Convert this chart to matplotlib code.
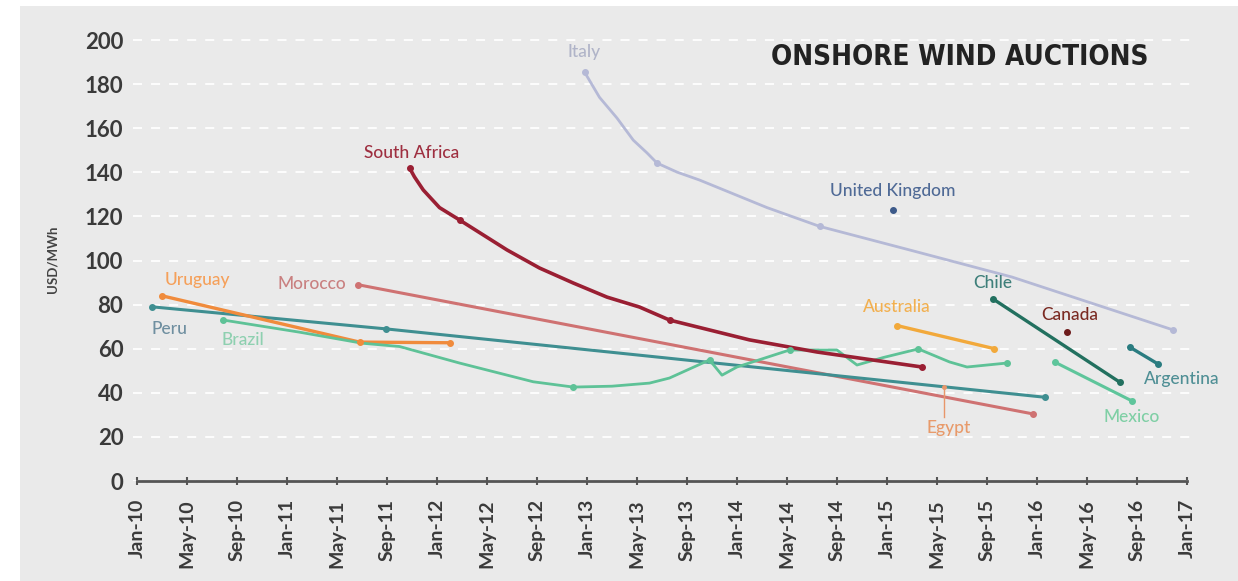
#%% importando
import matplotlib.pyplot as plt
from matplotlib.patches import Rectangle

#%% dados (meses contados a partir de Jan-10)
italy_m = [35.8, 37.0, 38.4, 39.7, 40.8, 41.6, 43.2, 45.0, 50.4, 54.6, 62.0, 70.0, 82.9]
italy_v = [185.5, 174.0, 164.6, 154.6, 148.8, 144.2, 140.1, 136.5, 124.0, 115.5, 104.5, 92.5, 68.5]

safrica_m = [21.8, 22.2, 22.9, 24.2, 25.8, 27.7, 29.6, 32.2, 34.9, 37.6, 40.2, 42.6, 49.0, 54.4, 62.8]
safrica_v = [142.0, 137.9, 132.0, 124.0, 118.4, 111.6, 104.8, 96.6, 89.8, 83.4, 78.9, 73.0, 64.0, 58.5, 51.7]

morocco_m = [17.7, 71.7]
morocco_v = [89.0, 30.4]

uruguay_m = [2.0, 17.8, 25.0]
uruguay_v = [84.0, 63.0, 62.7]

peru_m = [1.2, 19.9, 72.6]
peru_v = [79.0, 69.0, 38.0]

brazil_m = [6.9, 13.0, 18.0, 21.0, 25.8, 31.7, 34.9, 38.0, 41.0, 42.6, 45.8, 46.8, 48.0,
            52.2, 56.0, 57.6, 59.7, 62.5, 65.0, 66.4, 69.6]
brazil_v = [73.0, 67.5, 62.5, 61.0, 53.5, 45.0, 42.6, 43.0, 44.4, 46.7, 54.9, 48.0, 51.7,
            59.4, 59.4, 52.6, 56.0, 59.9, 54.0, 51.7, 53.5]

australia_m = [60.8, 68.6]
australia_v = [70.5, 60.0]

chile_m = [68.5, 78.6]
chile_v = [82.5, 44.9]

argentina_m = [79.4, 81.7]
argentina_v = [60.8, 53.0]

mexico_m = [73.4, 79.6]
mexico_v = [54.0, 36.3]

canada_m = [74.4]
canada_v = [67.6]

uk_m = [60.5]
uk_v = [123.0]

egypt_m = [64.6]
egypt_v = [42.6]

ticks_m = list(range(0, 85, 4))
ticks_lab = []
for ano in range(10, 18):
    for mes in ['Jan', 'May', 'Sep']:
        ticks_lab.append(f'{mes}-{ano}')
ticks_lab = ticks_lab[:len(ticks_m)]

#%% figura
fig = plt.figure(figsize=(12.38, 5.81), dpi=100)
fig.patches.append(Rectangle((20 / 1238, 0), 1, 1 - 6 / 581, transform=fig.transFigure,
                             facecolor='#eaeaea', edgecolor='none', zorder=-10))
ax = fig.add_axes([133 / 1238, 100 / 581, (1192 - 133) / 1238, 452 / 581])
ax.set_facecolor('none')
ax.set_zorder(2)
ax.set_xlim((133 - 137) / 12.5, (1192 - 137) / 12.5)
ax.set_ylim(0, 205)

# (meses, valores, cor, espessura, indices com marcador)
series = [
    (italy_m, italy_v, '#b5b9d6', 2.0, [0, 5, 9, -1]),
    (morocco_m, morocco_v, '#cf7272', 2.2, [0, -1]),
    (peru_m, peru_v, '#3f8f91', 2.2, [0, 1, -1]),
    (uruguay_m, uruguay_v, '#f08b3c', 2.4, [0, 1, -1]),
    (brazil_m, brazil_v, '#5ec297', 2.0, [0, 6, 10, 13, 17, -1]),
    (safrica_m, safrica_v, '#9a1f33', 2.6, [0, 4, 11, -1]),
    (australia_m, australia_v, '#f2a93b', 2.4, [0, -1]),
    (chile_m, chile_v, '#22705f', 2.4, [0, -1]),
    (mexico_m, mexico_v, '#5ec59b', 2.2, [0, -1]),
    (argentina_m, argentina_v, '#2a7c80', 2.4, [0, -1]),
]
for xm, yv, cor, lw, marcas in series:
    ax.plot(xm, yv, color=cor, lw=lw, solid_capstyle='round', solid_joinstyle='round', zorder=3)
    ax.plot([xm[i] for i in marcas], [yv[i] for i in marcas], 'o', color=cor, ms=4, zorder=4)

ax.plot(canada_m, canada_v, 'o', color='#6e1c1c', ms=4, zorder=4)
ax.plot(uk_m, uk_v, 'o', color='#3d5a8a', ms=4, zorder=4)
ax.plot(egypt_m, egypt_v, 'o', color='#e8966a', ms=2.5, zorder=4)
ax.plot([egypt_m[0], egypt_m[0]], [egypt_v[0], 29], color='#e8966a', lw=1, zorder=4)

#%% rotulos das series
fonte = 'Lato'
rotulos = [
    ('Italy', 35.8, 194.5, '#b0b4c8'),
    ('South Africa', 22.0, 148.8, '#9e2f40'),
    ('United Kingdom', 60.5, 131.5, '#4f6a96'),
    ('Uruguay', 4.8, 91.0, '#f5a05a'),
    ('Morocco', 14.0, 89.3, '#c98080'),
    ('Peru', 2.6, 69.0, '#6f8fa0'),
    ('Brazil', 8.5, 64.0, '#8ed0b0'),
    ('Australia', 60.8, 79.0, '#f2b050'),
    ('Chile', 68.5, 90.0, '#3e7f7a'),
    ('Canada', 74.6, 75.3, '#7a2a22'),
    ('Argentina', 83.6, 46.3, '#4f8f95'),
    ('Mexico', 79.6, 29.0, '#7fcfa5'),
    ('Egypt', 64.9, 24.0, '#e89a6a'),
]
for txt, xm, yv, cor in rotulos:
    ax.text(xm, yv, txt, color=cor, fontsize=12.5, family=fonte, weight='medium',
            ha='center', va='center', zorder=5)

ax.text(80.9, 192.3, 'ONSHORE WIND AUCTIONS', fontsize=20, weight='bold',
        family='DejaVu Sans', fontstretch='condensed', color='#222222',
        ha='right', va='center')

#%% eixos
ax.set_yticks(range(0, 201, 20))
ax.yaxis.grid(True, color='white', ls=(0, (5, 5)), lw=1.3)
ax.set_axisbelow(True)
for lado in ['top', 'right', 'left']:
    ax.spines[lado].set_visible(False)
ax.spines['bottom'].set_bounds(0, 84)
ax.spines['bottom'].set_color('#555555')
ax.spines['bottom'].set_linewidth(2)
ax.tick_params(axis='y', length=0, pad=7, labelsize=16, labelcolor='#3a3a3a')
ax.set_xticks(ticks_m)
ax.set_xticklabels(ticks_lab, rotation=90, ha='center', va='top')
ax.tick_params(axis='x', direction='inout', length=6, width=1.5, color='#555555',
               pad=10, labelsize=14, labelcolor='#3a3a3a')
for lab in ax.get_xticklabels() + ax.get_yticklabels():
    lab.set_family(fonte)
    lab.set_weight('bold')

fig.text(53 / 1238, 1 - 259 / 581, 'USD/MWh', rotation=90, fontsize=9.5, family=fonte,
         weight='bold', color='#444444', ha='center', va='center')

plt.savefig('out.png', dpi=100)
